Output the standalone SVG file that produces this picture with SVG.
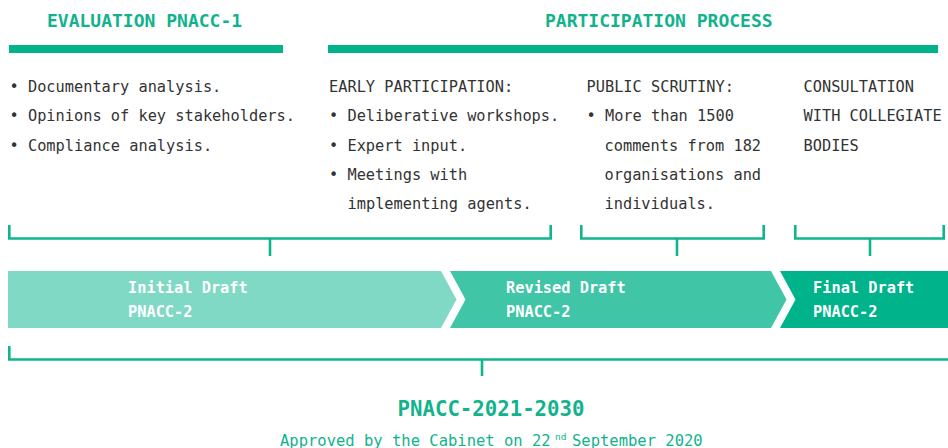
<svg xmlns="http://www.w3.org/2000/svg" width="948" height="448" viewBox="0 0 948 448">
  <style>
    .title { font-family: "DejaVu Sans Mono", "Liberation Mono", monospace; font-size: 18px; font-weight: bold; fill: #12b38c; }
    .body { font-family: "DejaVu Sans Mono", "Liberation Mono", monospace; font-size: 15.3px; fill: #333333; }
    .step { font-family: "DejaVu Sans Mono", "Liberation Mono", monospace; font-size: 15.3px; font-weight: bold; fill: #ffffff; }
    .bar { fill: #00b38a; }
    .bracket { fill: none; stroke: #0fb58c; stroke-width: 2.6; }
  </style>
  <rect width="948" height="448" fill="#ffffff"/>

  <!-- Phase headings with their underline bars -->
  <g id="evaluation-heading">
    <text class="title" x="47" y="27">EVALUATION PNACC-1</text>
    <rect class="bar" x="9" y="45" width="274" height="8"/>
  </g>
  <g id="participation-heading">
    <text class="title" x="545" y="27">PARTICIPATION PROCESS</text>
    <rect class="bar" x="328" y="45" width="610" height="8"/>
  </g>

  <!-- Activity columns -->
  <g id="evaluation-activities" class="body">
    <text x="9.5" y="92">• Documentary analysis.</text>
    <text x="9.5" y="121.3">• Opinions of key stakeholders.</text>
    <text x="9.5" y="150.6">• Compliance analysis.</text>
  </g>
  <g id="early-participation" class="body">
    <text x="329" y="92">EARLY PARTICIPATION:</text>
    <text x="329" y="121.3">• Deliberative workshops.</text>
    <text x="329" y="150.6">• Expert input.</text>
    <text x="329" y="179.9">• Meetings with</text>
    <text x="347.5" y="209.2">implementing agents.</text>
  </g>
  <g id="public-scrutiny" class="body">
    <text x="586.5" y="92">PUBLIC SCRUTINY:</text>
    <text x="586.5" y="121.3">• More than 1500</text>
    <text x="604.5" y="150.6">comments from 182</text>
    <text x="604.5" y="179.9">organisations and</text>
    <text x="604.5" y="209.2">individuals.</text>
  </g>
  <g id="collegiate-consultation" class="body">
    <text x="803.5" y="92">CONSULTATION</text>
    <text x="803.5" y="121.3">WITH COLLEGIATE</text>
    <text x="803.5" y="150.6">BODIES</text>
  </g>

  <!-- Draft stages -->
  <g id="initial-draft">
    <polygon points="8,271 441,271 456.5,299.5 441,328 8,328" fill="#80d9c5"/>
    <text class="step" x="128" y="293.3">Initial Draft</text>
    <text class="step" x="128" y="316.7">PNACC-2</text>
  </g>
  <g id="revised-draft">
    <polygon points="450,271 771,271 786.5,299.5 771,328 450,328 465.5,299.5" fill="#40c5a6"/>
    <text class="step" x="506" y="293.3">Revised Draft</text>
    <text class="step" x="506" y="316.7">PNACC-2</text>
  </g>
  <g id="final-draft">
    <polygon points="780,271 948,271 948,328 780,328 795.5,299.5" fill="#00b38a"/>
    <text class="step" x="813" y="293.3">Final Draft</text>
    <text class="step" x="813" y="316.7">PNACC-2</text>
  </g>

  <!-- Brackets linking activities to stages and stages to the final plan -->
  <g id="connectors" class="bracket">
    <path d="M9.3,225 V238.5 H550.7 V225 M270,238.5 V256"/>
    <path d="M581.3,225 V238.5 H763.7 V225 M677,238.5 V256"/>
    <path d="M795.3,225 V238.5 H943.7 V225 M870,238.5 V256"/>
    <path d="M9.3,346 V359.5 H948 M482,359.5 V376"/>
  </g>

  <!-- Adopted plan -->
  <g id="final-plan">
    <text x="491" y="416" text-anchor="middle" font-family="DejaVu Sans Mono, Liberation Mono, monospace" font-size="20.7" font-weight="bold" fill="#12b38c">PNACC-2021-2030</text>
    <text y="445.5" font-family="DejaVu Sans Mono, Liberation Mono, monospace" font-size="15.5" fill="#12b38c"><tspan x="280">Approved by the Cabinet on 22</tspan><tspan x="555" dy="-6" font-size="9.5">nd</tspan><tspan x="572" dy="6">September 2020</tspan></text>
  </g>
</svg>
